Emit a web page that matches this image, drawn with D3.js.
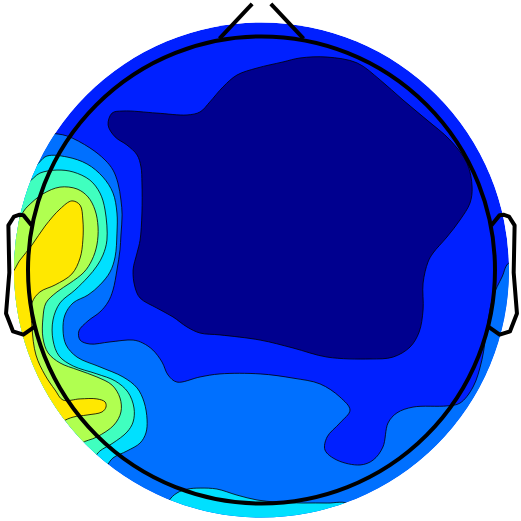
<!DOCTYPE html>
<html>
<head>
<meta charset="utf-8">
<script src="https://cdn.jsdelivr.net/npm/d3@7"></script>
<style>
  body { margin: 0; background: #fff; }
</style>
</head>
<body>
<div id="viz"></div>
<script>
// all shapes in head units: head radius = 100, x to the right, y to the nose

// colour of each contour band, lowest to highest (jet)
const levelColors = ["#00008F", "#0020FF", "#0070FF", "#00E0FF", "#40FFBF", "#B0FF50", "#FFE800"];

// band 0 (lowest) : the large central minimum
const band0Area = [
  [-64.0, 67.2], [-59.3, 68.1], [-44.8, 67.2], [-31.9, 66.4], [-26.3, 67.7], [-22.1, 72.0],
  [-16.5, 78.4], [-10.5, 83.5], [-1.9, 86.5], [9.2, 89.1], [16.5, 90.8], [28.1, 91.2],
  [40.9, 88.7], [50.8, 81.4], [60.6, 72.8], [70.9, 64.2], [80.7, 55.7], [88.0, 45.8],
  [90.2, 35.5], [89.3, 28.7], [85.0, 21.4], [79.4, 14.1], [73.5, 7.3], [71.3, 3.4],
  [69.2, -5.6], [69.2, -17.1], [67.5, -26.6], [63.6, -33.0], [56.3, -37.3], [46.5, -38.1],
  [28.1, -37.3], [13.5, -33.4], [-0.6, -30.0], [-17.8, -27.8], [-26.3, -27.0], [-31.9, -24.4],
  [-37.9, -20.1], [-44.8, -16.3], [-52.0, -12.0], [-54.2, -7.3], [-55.0, 0], [-53.3, 7.3],
  [-52.0, 12.8], [-51.2, 24.4], [-51.2, 37.3], [-51.6, 44.1], [-53.3, 49.3], [-57.6, 53.5],
  [-62.7, 57.0], [-65.7, 62.1]
];

// band 2 and above (left side, bottom, right rim)
const band2Area = [
  [-160, 75], [-112, 62],
  [-90.6, 58.7], [-83.3, 57.4], [-73.5, 52.3], [-67.0, 47.1], [-63.6, 42.8], [-61.5, 37.3],
  [-60.2, 30.0], [-59.7, 23.6], [-60.2, 15.0], [-60.6, 8.6], [-61.9, 0], [-63.6, -8.6],
  [-65.7, -13.7], [-69.2, -18.0], [-74.3, -21.8], [-78.2, -26.1], [-77.7, -30.0], [-73.5, -31.7],
  [-64.9, -30.8], [-55.0, -30.0], [-50.8, -31.3], [-46.5, -34.3], [-42.6, -39.4], [-40.0, -45.0],
  [-36.2, -48.0], [-26.3, -45.8], [-17.8, -44.5], [-0.6, -44.5], [13.5, -46.3], [25.1, -48.8],
  [33.6, -54.4], [37.9, -60.0], [33.6, -65.5], [28.1, -71.5], [27.2, -77.1], [32.3, -81.4],
  [42.2, -83.5], [47.8, -81.4], [52.0, -75.8], [54.2, -65.5], [58.0, -61.2], [64.9, -58.7],
  [79.4, -58.2], [85.0, -57.0], [90.6, -50.1], [94.4, -38.5], [96.6, -24.4], [99.1, -11.6],
  [103.0, -3.0], [106.4, 3.4],
  [130, 4], [160, 0], [160, -160], [-160, -160]
];

// band 3 and above: left crescent and bottom rim
const band3Left = [
  [-150, 60], [-118, 52],
  [-98.3, 44.1], [-91.9, 48.8], [-83.3, 48.4], [-74.7, 45.4], [-67.9, 39.8], [-63.6, 33.0],
  [-61.9, 24.4], [-61.9, 15.8], [-62.7, 5.6], [-64.9, -0.9], [-69.2, -6.4], [-74.3, -10.7],
  [-80.7, -14.1], [-84.2, -19.3], [-85.0, -25.7], [-83.7, -32.1], [-79.0, -37.3], [-69.2, -41.5],
  [-59.3, -45.8], [-53.3, -50.5], [-50.3, -56.5], [-49.0, -64.2], [-49.5, -69.8], [-52.0, -74.1],
  [-57.6, -77.5], [-63.6, -80.5], [-66.6, -84.4],
  [-80, -102], [-150, -110]
];
const band3Bottom = [
  [-48, -125], [-40.0, -99.4], [-36.2, -95.5], [-31.5, -93.8], [-26.3, -93.4], [-19.1, -93.8],
  [-10.5, -96.4], [-1.9, -98.5], [6.6, -99.4], [17.8, -99.8], [28.1, -99.8], [37.9, -100.6],
  [45, -125]
];

// band 4 and above
const band4Area = [
  [-150, 45], [-118, 40],
  [-100.9, 37.3], [-94.9, 41.5], [-87.6, 42.8], [-80.7, 42.0], [-73.5, 38.5], [-69.2, 33.0],
  [-67.0, 25.7], [-66.2, 12.8], [-67.9, 6.4], [-70.5, 1.7], [-74.3, -3.0], [-79.9, -8.6],
  [-86.3, -14.1], [-89.3, -21.4], [-89.3, -30.0], [-86.7, -36.8], [-80.7, -41.1], [-70.5, -44.5],
  [-62.7, -47.5], [-57.2, -52.3], [-54.6, -59.1], [-55.0, -65.1], [-57.6, -69.4], [-63.6, -74.1],
  [-69.2, -77.5], [-71.7, -80.5],
  [-85, -98], [-150, -110]
];

// band 5 and above
const band5Area = [
  [-150, 25], [-122, 24],
  [-106.0, 20.6], [-100.4, 27.0], [-93.6, 32.6], [-86.3, 35.5], [-79.0, 34.7], [-74.3, 31.3],
  [-71.3, 25.7], [-70.0, 18.4], [-70.5, 10.7], [-72.6, 4.3], [-76.0, -0.9], [-82.0, -5.6],
  [-87.6, -9.4], [-92.3, -14.1], [-93.6, -20.6], [-93.6, -29.1], [-91.4, -35.5], [-86.3, -39.8],
  [-78.6, -42.8], [-70.5, -45.8], [-64.0, -49.3], [-60.6, -54.8], [-60.2, -60.8], [-63.2, -66.4],
  [-70.5, -71.5], [-77.7, -74.5],
  [-92, -88], [-150, -100]
];

// band 6 (highest)
const band6Area = [
  [-150, 0], [-125, -2],
  [-108.1, -2.1], [-103.4, 4.3], [-98.3, 10.7], [-92.7, 18.8], [-86.3, 26.1], [-81.2, 29.6],
  [-77.7, 27.8], [-76.5, 21.4], [-76.5, 12.8], [-77.7, 5.1], [-81.2, -1.7], [-88.4, -6.4],
  [-94.9, -9.4], [-98.3, -14.1], [-98.3, -24.4], [-96.6, -36.4], [-92.7, -45.0], [-88.4, -51.4],
  [-85.0, -55.7], [-77.7, -55.2], [-70.5, -55.2], [-67.0, -56.5], [-66.6, -58.7], [-68.3, -60.8],
  [-74.7, -62.1], [-80.7, -63.0], [-85.4, -65.1],
  [-100, -78], [-150, -90]
];

// head outline pieces (right ear, mirrored for the left one)
const earX = [98.4, 102, 103.6, 106.0, 108.4, 108, 109.4, 106.4, 102, 96.8];
const earY = [19.1, 23.5, 23.7, 22.9, 19.1, -1.1, -18.6, -26.3, -27.7, -24.0];
const noseX = [18, 4];
const noseY = [99.1, 114];

const PLOT_RAD = 106;   // radius of the interpolated disc
const HEAD_RAD = 100;

const bands = [
  {pts: band0Area, level: 0},
  {pts: band2Area, level: 2},
  {pts: band3Left, level: 3},
  {pts: band3Bottom, level: 3},
  {pts: band4Area, level: 4},
  {pts: band5Area, level: 5},
  {pts: band6Area, level: 6}
];

const F_WIDTH = 521;
const F_HEIGHT = 521;
const CX = 261.5;
const CY = 270;
const HEAD_PX = 233.5;

const X_SCALE = d3.scaleLinear().domain([-100, 100]).range([CX - HEAD_PX, CX + HEAD_PX]);
const Y_SCALE = d3.scaleLinear().domain([-100, 100]).range([CY + HEAD_PX, CY - HEAD_PX]);

const FRAME = d3.select("#viz")
  .append("svg")
    .attr("width", F_WIDTH)
    .attr("height", F_HEIGHT);

FRAME.append("clipPath")
    .attr("id", "disc")
  .append("circle")
    .attr("cx", X_SCALE(0))
    .attr("cy", Y_SCALE(0))
    .attr("r", X_SCALE(PLOT_RAD) - X_SCALE(0));

const MAP = FRAME.append("g").attr("clip-path", "url(#disc)");

// base band fills the whole disc
MAP.append("circle")
    .attr("cx", X_SCALE(0))
    .attr("cy", Y_SCALE(0))
    .attr("r", X_SCALE(PLOT_RAD) - X_SCALE(0))
    .attr("fill", levelColors[1]);

const contour = d3.line()
    .x(d => X_SCALE(d[0]))
    .y(d => Y_SCALE(d[1]))
    .curve(d3.curveCatmullRomClosed.alpha(0.5));

MAP.selectAll("path.band")
  .data(bands)
  .enter()
  .append("path")
    .attr("class", "band")
    .attr("d", d => contour(d.pts))
    .attr("fill", d => levelColors[d.level])
    .attr("stroke", "#000")
    .attr("stroke-width", 0.8);

// head, ears, nose
const HEAD = FRAME.append("g")
    .attr("fill", "none")
    .attr("stroke", "#000")
    .attr("stroke-width", 4)
    .attr("stroke-linejoin", "round");

HEAD.append("circle")
    .attr("cx", X_SCALE(0))
    .attr("cy", Y_SCALE(0))
    .attr("r", X_SCALE(HEAD_RAD) - X_SCALE(0));

const outline = d3.line()
    .x(d => X_SCALE(d[0]))
    .y(d => Y_SCALE(d[1]));

const rightEar = earX.map((x, i) => [x, earY[i]]);
const leftEar = earX.map((x, i) => [-x, earY[i]]);
HEAD.append("path").attr("d", outline(rightEar));
HEAD.append("path").attr("d", outline(leftEar));

HEAD.append("path").attr("d", outline(noseX.map((x, i) => [-x, noseY[i]])));
HEAD.append("path").attr("d", outline(noseX.map((x, i) => [x, noseY[i]])));
</script>
</body>
</html>
